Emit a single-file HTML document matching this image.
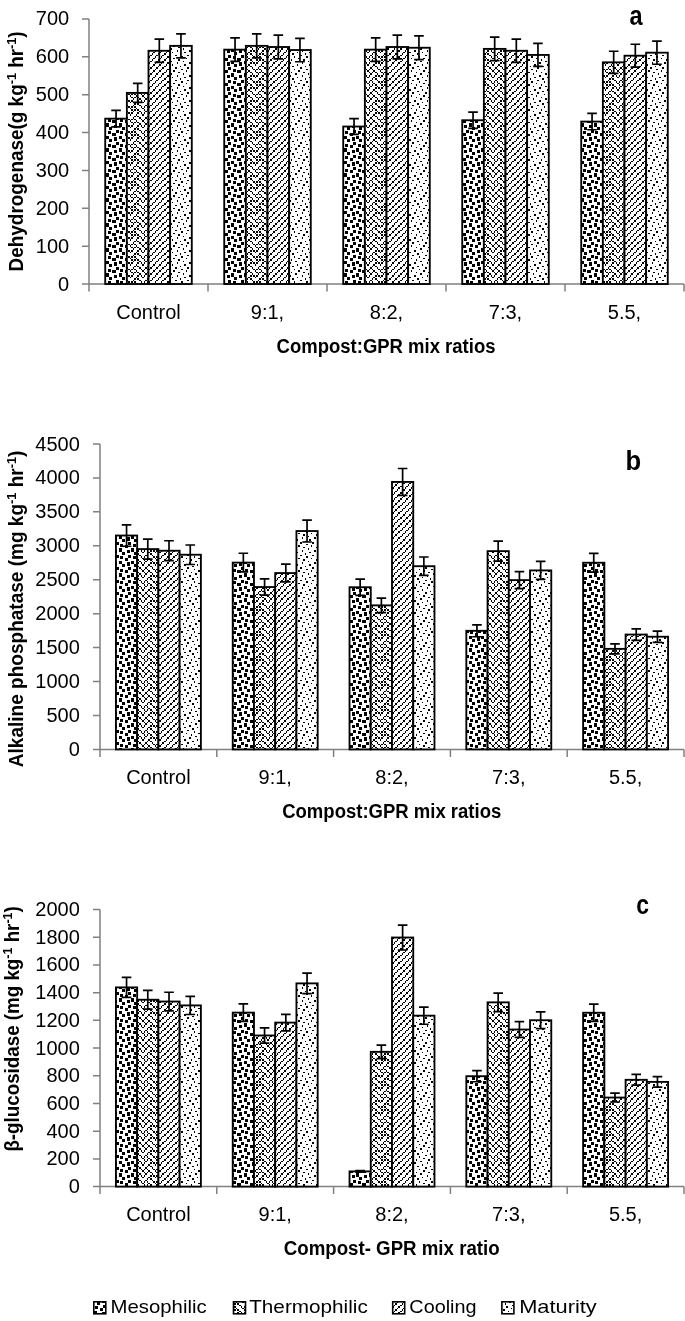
<!DOCTYPE html>
<html><head><meta charset="utf-8"><style>
html,body{margin:0;padding:0;background:#fff;}
svg{display:block;will-change:transform;}
text{font-family:"Liberation Sans",sans-serif;fill:#000;}
.tl{font-size:20px;}
.tb{font-size:19.5px;font-weight:bold;}
.sup{font-size:13px;}
.lt{font-size:27px;font-weight:bold;}
.lg{font-size:19px;}
</style></head><body>
<svg width="685" height="1321" viewBox="0 0 685 1321">
<defs><pattern id="pm" patternUnits="userSpaceOnUse" width="25" height="25"><rect width="25" height="25" fill="#fff"/><path d="M2 0h3v1h-3zM6 0h3v1h-3zM14 0h3v1h-3zM19 0h3v1h-3zM2 1h3v1h-3zM6 1h3v1h-3zM14 1h3v1h-3zM19 1h3v1h-3zM2 2h3v1h-3zM9 2h3v1h-3zM14 2h3v1h-3zM22 2h3v1h-3zM9 3h3v1h-3zM22 3h3v1h-3zM9 4h3v1h-3zM22 4h3v1h-3zM3 5h3v1h-3zM16 5h3v1h-3zM3 6h3v1h-3zM8 6h3v1h-3zM16 6h3v1h-3zM20 6h3v1h-3zM3 7h3v1h-3zM8 7h3v1h-3zM16 7h3v1h-3zM20 7h3v1h-3zM0 8h3v1h-3zM8 8h3v1h-3zM12 8h4v1h-4zM20 8h3v1h-3zM0 9h3v1h-3zM12 9h4v1h-4zM0 10h3v1h-3zM12 10h4v1h-4zM6 11h3v1h-3zM19 11h3v1h-3zM2 12h3v1h-3zM6 12h3v1h-3zM14 12h3v1h-3zM19 12h3v1h-3zM2 13h3v1h-3zM6 13h3v1h-3zM14 13h3v1h-3zM19 13h3v1h-3zM2 14h3v1h-3zM9 14h3v1h-3zM14 14h3v1h-3zM22 14h3v1h-3zM2 15h3v1h-3zM9 15h3v1h-3zM14 15h3v1h-3zM22 15h3v1h-3zM9 16h3v1h-3zM22 16h3v1h-3zM3 17h3v1h-3zM16 17h3v1h-3zM3 18h3v1h-3zM16 18h3v1h-3zM3 19h3v1h-3zM8 19h3v1h-3zM16 19h3v1h-3zM20 19h3v1h-3zM0 20h3v1h-3zM8 20h3v1h-3zM12 20h4v1h-4zM20 20h3v1h-3zM0 21h3v1h-3zM8 21h3v1h-3zM12 21h4v1h-4zM20 21h3v1h-3zM0 22h3v1h-3zM12 22h4v1h-4zM6 23h3v1h-3zM19 23h3v1h-3zM6 24h3v1h-3zM19 24h3v1h-3z" fill="#000" shape-rendering="crispEdges"/></pattern><pattern id="pt" patternUnits="userSpaceOnUse" width="25" height="25"><rect width="25" height="25" fill="#fff"/><path d="M0 0h2v1h-2zM3 0h2v1h-2zM6 0h2v1h-2zM12 0h2v1h-2zM16 0h1v1h-1zM19 0h1v1h-1zM0 1h2v1h-2zM3 1h2v1h-2zM6 1h2v1h-2zM12 1h2v1h-2zM16 1h1v1h-1zM19 1h1v1h-1zM5 2h1v1h-1zM11 2h1v1h-1zM17 2h2v1h-2zM23 2h2v1h-2zM0 3h2v1h-2zM9 3h2v1h-2zM12 3h2v1h-2zM22 3h1v1h-1zM0 4h2v1h-2zM9 4h2v1h-2zM12 4h2v1h-2zM22 4h1v1h-1zM2 5h1v1h-1zM8 5h1v1h-1zM14 5h2v1h-2zM20 5h2v1h-2zM3 6h2v1h-2zM6 6h2v1h-2zM9 6h2v1h-2zM16 6h1v1h-1zM19 6h1v1h-1zM22 6h1v1h-1zM3 7h2v1h-2zM6 7h2v1h-2zM9 7h2v1h-2zM16 7h1v1h-1zM19 7h1v1h-1zM22 7h1v1h-1zM5 8h1v1h-1zM11 8h1v1h-1zM17 8h2v1h-2zM23 8h2v1h-2zM0 9h2v1h-2zM6 9h2v1h-2zM9 9h2v1h-2zM12 9h2v1h-2zM19 9h1v1h-1zM22 9h1v1h-1zM0 10h2v1h-2zM6 10h2v1h-2zM9 10h2v1h-2zM12 10h2v1h-2zM19 10h1v1h-1zM22 10h1v1h-1zM2 11h1v1h-1zM8 11h1v1h-1zM14 11h2v1h-2zM20 11h2v1h-2zM0 12h2v1h-2zM3 12h2v1h-2zM6 12h2v1h-2zM12 12h2v1h-2zM16 12h1v1h-1zM19 12h1v1h-1zM0 13h2v1h-2zM3 13h2v1h-2zM6 13h2v1h-2zM12 13h2v1h-2zM16 13h1v1h-1zM19 13h1v1h-1zM5 14h1v1h-1zM11 14h1v1h-1zM17 14h2v1h-2zM23 14h2v1h-2zM5 15h1v1h-1zM11 15h1v1h-1zM17 15h2v1h-2zM23 15h2v1h-2zM0 16h2v1h-2zM9 16h2v1h-2zM12 16h2v1h-2zM22 16h1v1h-1zM2 17h1v1h-1zM8 17h1v1h-1zM14 17h2v1h-2zM20 17h2v1h-2zM2 18h1v1h-1zM8 18h1v1h-1zM14 18h2v1h-2zM20 18h2v1h-2zM3 19h2v1h-2zM6 19h2v1h-2zM9 19h2v1h-2zM16 19h1v1h-1zM19 19h1v1h-1zM22 19h1v1h-1zM5 20h1v1h-1zM11 20h1v1h-1zM17 20h2v1h-2zM23 20h2v1h-2zM5 21h1v1h-1zM11 21h1v1h-1zM17 21h2v1h-2zM23 21h2v1h-2zM0 22h2v1h-2zM6 22h2v1h-2zM9 22h2v1h-2zM12 22h2v1h-2zM19 22h1v1h-1zM22 22h1v1h-1zM2 23h1v1h-1zM8 23h1v1h-1zM14 23h2v1h-2zM20 23h2v1h-2zM2 24h1v1h-1zM8 24h1v1h-1zM14 24h2v1h-2zM20 24h2v1h-2z" fill="#000" shape-rendering="crispEdges"/></pattern><pattern id="pc" patternUnits="userSpaceOnUse" width="25" height="25"><rect width="25" height="25" fill="#fff"/><path d="M5 0h1v1h-1zM11 0h1v1h-1zM17 0h2v1h-2zM23 0h2v1h-2zM5 1h1v1h-1zM11 1h1v1h-1zM17 1h2v1h-2zM23 1h2v1h-2zM3 2h2v1h-2zM9 2h2v1h-2zM16 2h1v1h-1zM22 2h1v1h-1zM2 3h1v1h-1zM8 3h1v1h-1zM14 3h2v1h-2zM20 3h2v1h-2zM2 4h1v1h-1zM8 4h1v1h-1zM14 4h2v1h-2zM20 4h2v1h-2zM0 5h2v1h-2zM6 5h2v1h-2zM12 5h2v1h-2zM19 5h1v1h-1zM5 6h1v1h-1zM11 6h1v1h-1zM17 6h2v1h-2zM23 6h2v1h-2zM5 7h1v1h-1zM11 7h1v1h-1zM17 7h2v1h-2zM23 7h2v1h-2zM3 8h2v1h-2zM9 8h2v1h-2zM16 8h1v1h-1zM22 8h1v1h-1zM2 9h1v1h-1zM8 9h1v1h-1zM14 9h2v1h-2zM20 9h2v1h-2zM2 10h1v1h-1zM8 10h1v1h-1zM14 10h2v1h-2zM20 10h2v1h-2zM0 11h2v1h-2zM6 11h2v1h-2zM12 11h2v1h-2zM19 11h1v1h-1zM5 12h1v1h-1zM11 12h1v1h-1zM17 12h2v1h-2zM23 12h2v1h-2zM5 13h1v1h-1zM11 13h1v1h-1zM17 13h2v1h-2zM23 13h2v1h-2zM3 14h2v1h-2zM9 14h2v1h-2zM16 14h1v1h-1zM22 14h1v1h-1zM3 15h2v1h-2zM9 15h2v1h-2zM16 15h1v1h-1zM22 15h1v1h-1zM2 16h1v1h-1zM8 16h1v1h-1zM14 16h2v1h-2zM20 16h2v1h-2zM0 17h2v1h-2zM6 17h2v1h-2zM12 17h2v1h-2zM19 17h1v1h-1zM0 18h2v1h-2zM6 18h2v1h-2zM12 18h2v1h-2zM19 18h1v1h-1zM5 19h1v1h-1zM11 19h1v1h-1zM17 19h2v1h-2zM23 19h2v1h-2zM3 20h2v1h-2zM9 20h2v1h-2zM16 20h1v1h-1zM22 20h1v1h-1zM3 21h2v1h-2zM9 21h2v1h-2zM16 21h1v1h-1zM22 21h1v1h-1zM2 22h1v1h-1zM8 22h1v1h-1zM14 22h2v1h-2zM20 22h2v1h-2zM0 23h2v1h-2zM6 23h2v1h-2zM12 23h2v1h-2zM19 23h1v1h-1zM0 24h2v1h-2zM6 24h2v1h-2zM12 24h2v1h-2zM19 24h1v1h-1z" fill="#000" shape-rendering="crispEdges"/></pattern><pattern id="pa" patternUnits="userSpaceOnUse" width="25" height="25"><rect width="25" height="25" fill="#fff"/><path d="M2 0h1v1h-1zM14 0h2v1h-2zM2 1h1v1h-1zM14 1h2v1h-2zM9 2h2v1h-2zM22 2h1v1h-1zM5 3h1v1h-1zM17 3h2v1h-2zM5 4h1v1h-1zM17 4h2v1h-2zM0 5h2v1h-2zM12 5h2v1h-2zM6 6h2v1h-2zM19 6h1v1h-1zM6 7h2v1h-2zM19 7h1v1h-1zM11 8h1v1h-1zM23 8h2v1h-2zM3 9h2v1h-2zM16 9h1v1h-1zM3 10h2v1h-2zM16 10h1v1h-1zM8 11h1v1h-1zM20 11h2v1h-2zM2 12h1v1h-1zM14 12h2v1h-2zM2 13h1v1h-1zM14 13h2v1h-2zM9 14h2v1h-2zM22 14h1v1h-1zM9 15h2v1h-2zM22 15h1v1h-1zM5 16h1v1h-1zM17 16h2v1h-2zM0 17h2v1h-2zM12 17h2v1h-2zM0 18h2v1h-2zM12 18h2v1h-2zM6 19h2v1h-2zM19 19h1v1h-1zM11 20h1v1h-1zM23 20h2v1h-2zM11 21h1v1h-1zM23 21h2v1h-2zM3 22h2v1h-2zM16 22h1v1h-1zM8 23h1v1h-1zM20 23h2v1h-2zM8 24h1v1h-1zM20 24h2v1h-2z" fill="#000" shape-rendering="crispEdges"/></pattern></defs>
<path d="M89 18.9V284H684" stroke="#808080" stroke-width="1.5" fill="none"/><text x="69.2" y="290.5" text-anchor="end" class="tl">0</text><text x="69.2" y="252.63" text-anchor="end" class="tl">100</text><text x="69.2" y="214.76" text-anchor="end" class="tl">200</text><text x="69.2" y="176.89" text-anchor="end" class="tl">300</text><text x="69.2" y="139.01" text-anchor="end" class="tl">400</text><text x="69.2" y="101.14" text-anchor="end" class="tl">500</text><text x="69.2" y="63.27" text-anchor="end" class="tl">600</text><text x="69.2" y="25.4" text-anchor="end" class="tl">700</text><path d="M82 284H89M82 246.13H89M82 208.26H89M82 170.39H89M82 132.51H89M82 94.64H89M82 56.77H89M82 18.9H89M89 284V291.5M208 284V291.5M327 284V291.5M446 284V291.5M565 284V291.5M684 284V291.5" stroke="#808080" stroke-width="1.5" fill="none"/><rect x="105.23" y="118.65" width="21.64" height="165.35" fill="url(#pm)" stroke="#000" stroke-width="1.85"/><rect x="126.86" y="92.9" width="21.64" height="191.1" fill="url(#pt)" stroke="#000" stroke-width="1.85"/><rect x="148.5" y="50.78" width="21.64" height="233.22" fill="url(#pc)" stroke="#000" stroke-width="1.85"/><rect x="170.14" y="45.86" width="21.64" height="238.14" fill="url(#pa)" stroke="#000" stroke-width="1.85"/><rect x="224.23" y="49.65" width="21.64" height="234.35" fill="url(#pm)" stroke="#000" stroke-width="1.85"/><rect x="245.86" y="45.86" width="21.64" height="238.14" fill="url(#pt)" stroke="#000" stroke-width="1.85"/><rect x="267.5" y="47" width="21.64" height="237" fill="url(#pc)" stroke="#000" stroke-width="1.85"/><rect x="289.14" y="50.03" width="21.64" height="233.97" fill="url(#pa)" stroke="#000" stroke-width="1.85"/><rect x="343.23" y="126.53" width="21.64" height="157.47" fill="url(#pm)" stroke="#000" stroke-width="1.85"/><rect x="364.86" y="49.65" width="21.64" height="234.35" fill="url(#pt)" stroke="#000" stroke-width="1.85"/><rect x="386.5" y="47" width="21.64" height="237" fill="url(#pc)" stroke="#000" stroke-width="1.85"/><rect x="408.14" y="47.75" width="21.64" height="236.25" fill="url(#pa)" stroke="#000" stroke-width="1.85"/><rect x="462.23" y="120.24" width="21.64" height="163.76" fill="url(#pm)" stroke="#000" stroke-width="1.85"/><rect x="483.86" y="48.89" width="21.64" height="235.11" fill="url(#pt)" stroke="#000" stroke-width="1.85"/><rect x="505.5" y="50.78" width="21.64" height="233.22" fill="url(#pc)" stroke="#000" stroke-width="1.85"/><rect x="527.14" y="54.95" width="21.64" height="229.05" fill="url(#pa)" stroke="#000" stroke-width="1.85"/><rect x="581.23" y="121.6" width="21.64" height="162.4" fill="url(#pm)" stroke="#000" stroke-width="1.85"/><rect x="602.86" y="62.33" width="21.64" height="221.67" fill="url(#pt)" stroke="#000" stroke-width="1.85"/><rect x="624.5" y="55.71" width="21.64" height="228.29" fill="url(#pc)" stroke="#000" stroke-width="1.85"/><rect x="646.14" y="52.68" width="21.64" height="231.32" fill="url(#pa)" stroke="#000" stroke-width="1.85"/><path d="M116.05 110.36V126.94M111.25 110.36h9.6M111.25 126.94h9.6M137.68 83.32V102.47M132.88 83.32h9.6M132.88 102.47h9.6M159.32 39.1V62.47M154.52 39.1h9.6M154.52 62.47h9.6M180.95 33.93V57.79M176.15 33.93h9.6M176.15 57.79h9.6M235.05 37.91V61.39M230.25 37.91h9.6M230.25 61.39h9.6M256.68 33.93V57.79M251.88 33.93h9.6M251.88 57.79h9.6M278.32 35.12V58.87M273.52 35.12h9.6M273.52 58.87h9.6M299.95 38.3V61.75M295.15 38.3h9.6M295.15 61.75h9.6M354.05 118.63V134.42M349.25 118.63h9.6M349.25 134.42h9.6M375.68 37.91V61.39M370.88 37.91h9.6M370.88 61.39h9.6M397.32 35.12V58.87M392.52 35.12h9.6M392.52 58.87h9.6M418.95 35.92V59.59M414.15 35.92h9.6M414.15 59.59h9.6M473.05 112.03V128.45M468.25 112.03h9.6M468.25 128.45h9.6M494.68 37.11V60.67M489.88 37.11h9.6M489.88 60.67h9.6M516.32 39.1V62.47M511.52 39.1h9.6M511.52 62.47h9.6M537.95 43.47V66.42M533.15 43.47h9.6M533.15 66.42h9.6M592.05 113.46V129.75M587.25 113.46h9.6M587.25 129.75h9.6M613.68 51.23V73.44M608.88 51.23h9.6M608.88 73.44h9.6M635.32 44.27V67.14M630.52 44.27h9.6M630.52 67.14h9.6M656.95 41.09V64.27M652.15 41.09h9.6M652.15 64.27h9.6" stroke="#000" stroke-width="1.7" fill="none"/><text x="148.5" y="319.3" text-anchor="middle" class="tl">Control</text><text x="267.5" y="319.3" text-anchor="middle" class="tl">9:1,</text><text x="386.5" y="319.3" text-anchor="middle" class="tl">8:2,</text><text x="505.5" y="319.3" text-anchor="middle" class="tl">7:3,</text><text x="624.5" y="319.3" text-anchor="middle" class="tl">5.5,</text><text x="276.6" y="352.8" class="tb" textLength="218.9" lengthAdjust="spacingAndGlyphs">Compost:GPR mix ratios</text><text transform="translate(23.1 271.4) rotate(-90)" class="tb" textLength="240" lengthAdjust="spacingAndGlyphs">Dehydrogenase(g kg<tspan class="sup" dy="-7">-1</tspan><tspan dy="7"> hr</tspan><tspan class="sup" dy="-7">-1</tspan><tspan dy="7">)</tspan></text><text transform="translate(629.6 24.8) scale(0.87 1)" class="lt">a</text><path d="M100 444V749.4H684" stroke="#808080" stroke-width="1.5" fill="none"/><text x="79.8" y="755.9" text-anchor="end" class="tl">0</text><text x="79.8" y="721.97" text-anchor="end" class="tl">500</text><text x="79.8" y="688.03" text-anchor="end" class="tl">1000</text><text x="79.8" y="654.1" text-anchor="end" class="tl">1500</text><text x="79.8" y="620.17" text-anchor="end" class="tl">2000</text><text x="79.8" y="586.23" text-anchor="end" class="tl">2500</text><text x="79.8" y="552.3" text-anchor="end" class="tl">3000</text><text x="79.8" y="518.37" text-anchor="end" class="tl">3500</text><text x="79.8" y="484.43" text-anchor="end" class="tl">4000</text><text x="79.8" y="450.5" text-anchor="end" class="tl">4500</text><path d="M93 749.4H100M93 715.47H100M93 681.53H100M93 647.6H100M93 613.67H100M93 579.73H100M93 545.8H100M93 511.87H100M93 477.93H100M93 444H100M100 749.4V756.9M216.8 749.4V756.9M333.6 749.4V756.9M450.4 749.4V756.9M567.2 749.4V756.9M684 749.4V756.9" stroke="#808080" stroke-width="1.5" fill="none"/><rect x="115.93" y="535.53" width="21.24" height="213.87" fill="url(#pm)" stroke="#000" stroke-width="1.85"/><rect x="137.16" y="549.1" width="21.24" height="200.3" fill="url(#pt)" stroke="#000" stroke-width="1.85"/><rect x="158.4" y="550.73" width="21.24" height="198.67" fill="url(#pc)" stroke="#000" stroke-width="1.85"/><rect x="179.64" y="554.73" width="21.24" height="194.67" fill="url(#pa)" stroke="#000" stroke-width="1.85"/><rect x="232.73" y="562.61" width="21.24" height="186.79" fill="url(#pm)" stroke="#000" stroke-width="1.85"/><rect x="253.96" y="587.04" width="21.24" height="162.36" fill="url(#pt)" stroke="#000" stroke-width="1.85"/><rect x="275.2" y="573.06" width="21.24" height="176.34" fill="url(#pc)" stroke="#000" stroke-width="1.85"/><rect x="296.44" y="531.05" width="21.24" height="218.35" fill="url(#pa)" stroke="#000" stroke-width="1.85"/><rect x="349.53" y="587.24" width="21.24" height="162.16" fill="url(#pm)" stroke="#000" stroke-width="1.85"/><rect x="370.76" y="605.36" width="21.24" height="144.04" fill="url(#pt)" stroke="#000" stroke-width="1.85"/><rect x="392" y="481.91" width="21.24" height="267.49" fill="url(#pc)" stroke="#000" stroke-width="1.85"/><rect x="413.24" y="566.2" width="21.24" height="183.2" fill="url(#pa)" stroke="#000" stroke-width="1.85"/><rect x="466.33" y="630.81" width="21.24" height="118.59" fill="url(#pm)" stroke="#000" stroke-width="1.85"/><rect x="487.56" y="551.14" width="21.24" height="198.26" fill="url(#pt)" stroke="#000" stroke-width="1.85"/><rect x="508.8" y="580.12" width="21.24" height="169.28" fill="url(#pc)" stroke="#000" stroke-width="1.85"/><rect x="530.04" y="570.41" width="21.24" height="178.99" fill="url(#pa)" stroke="#000" stroke-width="1.85"/><rect x="583.13" y="562.74" width="21.24" height="186.66" fill="url(#pm)" stroke="#000" stroke-width="1.85"/><rect x="604.36" y="648.86" width="21.24" height="100.54" fill="url(#pt)" stroke="#000" stroke-width="1.85"/><rect x="625.6" y="634.54" width="21.24" height="114.86" fill="url(#pc)" stroke="#000" stroke-width="1.85"/><rect x="646.84" y="636.72" width="21.24" height="112.68" fill="url(#pa)" stroke="#000" stroke-width="1.85"/><path d="M126.55 524.81V546.24M121.75 524.81h9.6M121.75 546.24h9.6M147.78 539.06V559.14M142.98 539.06h9.6M142.98 559.14h9.6M169.02 540.77V560.69M164.22 540.77h9.6M164.22 560.69h9.6M190.25 544.98V564.49M185.45 544.98h9.6M185.45 564.49h9.6M243.35 553.24V571.97M238.55 553.24h9.6M238.55 571.97h9.6M264.58 578.9V595.18M259.78 578.9h9.6M259.78 595.18h9.6M285.82 564.22V581.9M281.02 564.22h9.6M281.02 581.9h9.6M307.05 520.11V541.99M302.25 520.11h9.6M302.25 541.99h9.6M360.15 579.11V595.37M355.35 579.11h9.6M355.35 595.37h9.6M381.38 598.14V612.59M376.58 598.14h9.6M376.58 612.59h9.6M402.62 468.52V495.31M397.82 468.52h9.6M397.82 495.31h9.6M423.85 557.02V575.39M419.05 557.02h9.6M419.05 575.39h9.6M476.95 624.86V636.76M472.15 624.86h9.6M472.15 636.76h9.6M498.18 541.2V561.07M493.38 541.2h9.6M493.38 561.07h9.6M519.42 571.63V588.6M514.62 571.63h9.6M514.62 588.6h9.6M540.65 561.44V579.38M535.85 561.44h9.6M535.85 579.38h9.6M593.75 553.39V572.1M588.95 553.39h9.6M588.95 572.1h9.6M614.98 643.82V653.91M610.18 643.82h9.6M610.18 653.91h9.6M636.22 628.78V640.31M631.42 628.78h9.6M631.42 640.31h9.6M657.45 631.06V642.37M652.65 631.06h9.6M652.65 642.37h9.6" stroke="#000" stroke-width="1.7" fill="none"/><text x="158.4" y="783.8" text-anchor="middle" class="tl">Control</text><text x="275.2" y="783.8" text-anchor="middle" class="tl">9:1,</text><text x="392" y="783.8" text-anchor="middle" class="tl">8:2,</text><text x="508.8" y="783.8" text-anchor="middle" class="tl">7:3,</text><text x="625.6" y="783.8" text-anchor="middle" class="tl">5.5,</text><text x="282.2" y="817.9" class="tb" textLength="219.1" lengthAdjust="spacingAndGlyphs">Compost:GPR mix ratios</text><text transform="translate(22.9 767.2) rotate(-90)" class="tb" textLength="316.5" lengthAdjust="spacingAndGlyphs">Alkaline phosphatase (mg kg<tspan class="sup" dy="-7">-1</tspan><tspan dy="7"> hr</tspan><tspan class="sup" dy="-7">-1</tspan><tspan dy="7">)</tspan></text><text transform="translate(625.6 470.4) scale(0.95 1)" class="lt">b</text><path d="M100 909.5V1186.6H684" stroke="#808080" stroke-width="1.5" fill="none"/><text x="79.8" y="1193.1" text-anchor="end" class="tl">0</text><text x="79.8" y="1165.39" text-anchor="end" class="tl">200</text><text x="79.8" y="1137.68" text-anchor="end" class="tl">400</text><text x="79.8" y="1109.97" text-anchor="end" class="tl">600</text><text x="79.8" y="1082.26" text-anchor="end" class="tl">800</text><text x="79.8" y="1054.55" text-anchor="end" class="tl">1000</text><text x="79.8" y="1026.84" text-anchor="end" class="tl">1200</text><text x="79.8" y="999.13" text-anchor="end" class="tl">1400</text><text x="79.8" y="971.42" text-anchor="end" class="tl">1600</text><text x="79.8" y="943.71" text-anchor="end" class="tl">1800</text><text x="79.8" y="916" text-anchor="end" class="tl">2000</text><path d="M93 1186.6H100M93 1158.89H100M93 1131.18H100M93 1103.47H100M93 1075.76H100M93 1048.05H100M93 1020.34H100M93 992.63H100M93 964.92H100M93 937.21H100M93 909.5H100M100 1186.6V1194.1M216.8 1186.6V1194.1M333.6 1186.6V1194.1M450.4 1186.6V1194.1M567.2 1186.6V1194.1M684 1186.6V1194.1" stroke="#808080" stroke-width="1.5" fill="none"/><rect x="115.93" y="987.4" width="21.24" height="199.2" fill="url(#pm)" stroke="#000" stroke-width="1.85"/><rect x="137.16" y="999.73" width="21.24" height="186.87" fill="url(#pt)" stroke="#000" stroke-width="1.85"/><rect x="158.4" y="1001.53" width="21.24" height="185.07" fill="url(#pc)" stroke="#000" stroke-width="1.85"/><rect x="179.64" y="1005.41" width="21.24" height="181.19" fill="url(#pa)" stroke="#000" stroke-width="1.85"/><rect x="232.73" y="1012.62" width="21.24" height="173.98" fill="url(#pm)" stroke="#000" stroke-width="1.85"/><rect x="253.96" y="1035.48" width="21.24" height="151.12" fill="url(#pt)" stroke="#000" stroke-width="1.85"/><rect x="275.2" y="1022.59" width="21.24" height="164.01" fill="url(#pc)" stroke="#000" stroke-width="1.85"/><rect x="296.44" y="983.38" width="21.24" height="203.22" fill="url(#pa)" stroke="#000" stroke-width="1.85"/><rect x="349.53" y="1171.39" width="21.24" height="15.21" fill="url(#pm)" stroke="#000" stroke-width="1.85"/><rect x="370.76" y="1051.83" width="21.24" height="134.77" fill="url(#pt)" stroke="#000" stroke-width="1.85"/><rect x="392" y="937.52" width="21.24" height="249.08" fill="url(#pc)" stroke="#000" stroke-width="1.85"/><rect x="413.24" y="1015.66" width="21.24" height="170.94" fill="url(#pa)" stroke="#000" stroke-width="1.85"/><rect x="466.33" y="1076.21" width="21.24" height="110.39" fill="url(#pm)" stroke="#000" stroke-width="1.85"/><rect x="487.56" y="1002.36" width="21.24" height="184.24" fill="url(#pt)" stroke="#000" stroke-width="1.85"/><rect x="508.8" y="1029.52" width="21.24" height="157.08" fill="url(#pc)" stroke="#000" stroke-width="1.85"/><rect x="530.04" y="1020.24" width="21.24" height="166.36" fill="url(#pa)" stroke="#000" stroke-width="1.85"/><rect x="583.13" y="1012.75" width="21.24" height="173.85" fill="url(#pm)" stroke="#000" stroke-width="1.85"/><rect x="604.36" y="1097.55" width="21.24" height="89.05" fill="url(#pt)" stroke="#000" stroke-width="1.85"/><rect x="625.6" y="1079.81" width="21.24" height="106.79" fill="url(#pc)" stroke="#000" stroke-width="1.85"/><rect x="646.84" y="1081.89" width="21.24" height="104.71" fill="url(#pa)" stroke="#000" stroke-width="1.85"/><path d="M126.55 977.42V997.38M121.75 977.42h9.6M121.75 997.38h9.6M147.78 990.36V1009.1M142.98 990.36h9.6M142.98 1009.1h9.6M169.02 992.26V1010.81M164.22 992.26h9.6M164.22 1010.81h9.6M190.25 996.33V1014.49M185.45 996.33h9.6M185.45 1014.49h9.6M243.35 1003.89V1021.34M238.55 1003.89h9.6M238.55 1021.34h9.6M264.58 1027.9V1043.05M259.78 1027.9h9.6M259.78 1043.05h9.6M285.82 1014.37V1030.81M281.02 1014.37h9.6M281.02 1030.81h9.6M307.05 973.2V993.56M302.25 973.2h9.6M302.25 993.56h9.6M360.15 1170.61V1172.18M355.35 1170.61h9.6M355.35 1172.18h9.6M381.38 1045.06V1058.59M376.58 1045.06h9.6M376.58 1058.59h9.6M402.62 925.05V950M397.82 925.05h9.6M397.82 950h9.6M423.85 1007.09V1024.23M419.05 1007.09h9.6M419.05 1024.23h9.6M476.95 1070.67V1081.75M472.15 1070.67h9.6M472.15 1081.75h9.6M498.18 993.13V1011.6M493.38 993.13h9.6M493.38 1011.6h9.6M519.42 1021.64V1037.4M514.62 1021.64h9.6M514.62 1037.4h9.6M540.65 1011.9V1028.58M535.85 1011.9h9.6M535.85 1028.58h9.6M593.75 1004.04V1021.47M588.95 1004.04h9.6M588.95 1021.47h9.6M614.98 1093.07V1102.02M610.18 1093.07h9.6M610.18 1102.02h9.6M636.22 1074.45V1085.17M631.42 1074.45h9.6M631.42 1085.17h9.6M657.45 1076.63V1087.15M652.65 1076.63h9.6M652.65 1087.15h9.6" stroke="#000" stroke-width="1.7" fill="none"/><text x="158.4" y="1221.3" text-anchor="middle" class="tl">Control</text><text x="275.2" y="1221.3" text-anchor="middle" class="tl">9:1,</text><text x="392" y="1221.3" text-anchor="middle" class="tl">8:2,</text><text x="508.8" y="1221.3" text-anchor="middle" class="tl">7:3,</text><text x="625.6" y="1221.3" text-anchor="middle" class="tl">5.5,</text><text x="283.8" y="1254.5" class="tb" textLength="215.8" lengthAdjust="spacingAndGlyphs">Compost- GPR mix ratio</text><text transform="translate(18.9 1151.6) rotate(-90)" class="tb" textLength="245.4" lengthAdjust="spacingAndGlyphs">β-glucosidase (mg kg<tspan class="sup" dy="-7">-1</tspan><tspan dy="7"> hr</tspan><tspan class="sup" dy="-7">-1</tspan><tspan dy="7">)</tspan></text><text transform="translate(636.3 913.5) scale(0.85 1)" class="lt">c</text><rect x="93.8" y="1301.8" width="12" height="12" fill="url(#pm)" stroke="#000" stroke-width="1.6"/><text x="110.60000000000001" y="1313.4" class="lg" textLength="96" lengthAdjust="spacingAndGlyphs">Mesophilic</text><rect x="233.5" y="1301.8" width="12" height="12" fill="url(#pt)" stroke="#000" stroke-width="1.6"/><text x="249.20000000000002" y="1313.4" class="lg" textLength="118.6" lengthAdjust="spacingAndGlyphs">Thermophilic</text><rect x="392.7" y="1301.8" width="12" height="12" fill="url(#pc)" stroke="#000" stroke-width="1.6"/><text x="409.29999999999995" y="1313.4" class="lg" textLength="67.3" lengthAdjust="spacingAndGlyphs">Cooling</text><rect x="501.90000000000003" y="1301.8" width="12" height="12" fill="url(#pa)" stroke="#000" stroke-width="1.6"/><text x="519.1999999999999" y="1313.4" class="lg" textLength="77.6" lengthAdjust="spacingAndGlyphs">Maturity</text>
</svg>
</body></html>
